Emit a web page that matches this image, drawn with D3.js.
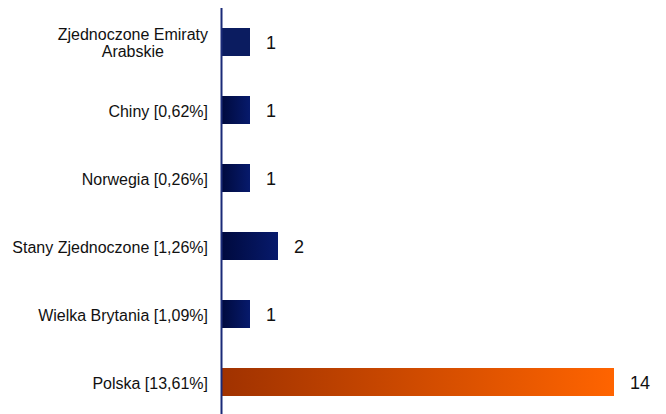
<!DOCTYPE html>
<html>
<head>
<meta charset="utf-8">
<script src="https://cdn.jsdelivr.net/npm/d3@7"></script>
<style>
body { margin: 0; background: #fff; }
</style>
</head>
<body>
<div id="chart"></div>
<script>
// dane
var categories = [
	["Zjednoczone Emiraty", "Arabskie"],
	["Chiny [0,62%]"],
	["Norwegia [0,26%]"],
	["Stany Zjednoczone [1,26%]"],
	["Wielka Brytania [1,09%]"],
	["Polska [13,61%]"]
];
var values = [1, 1, 1, 2, 1, 14];
var barStyle = ["flat", "blue", "blue", "blue", "blue", "orange"];

var width = 666, height = 414;
var axisX = 222;

var svg = d3.select("#chart").append("svg")
	.attr("width", width)
	.attr("height", height);

var defs = svg.append("defs");
function grad(id, c1, c2) {
	var g = defs.append("linearGradient").attr("id", id)
		.attr("x1", "0%").attr("x2", "100%").attr("y1", "0%").attr("y2", "0%");
	g.append("stop").attr("offset", "0%").attr("stop-color", c1);
	g.append("stop").attr("offset", "100%").attr("stop-color", c2);
}
grad("gBlue", "#000a3e", "#071a6c");
grad("gOrange", "#a03200", "#ff6400");
var fills = { flat: "#0b1c60", blue: "url(#gBlue)", orange: "url(#gOrange)" };

var y = d3.scaleBand()
	.domain(d3.range(categories.length))
	.range([8, 416])
	.paddingInner(40 / 68)
	.paddingOuter(20 / 68);

var x = d3.scaleLinear()
	.domain([0, 14])
	.range([axisX, axisX + 392]);

// barres
svg.selectAll("rect.bar")
	.data(values)
	.enter()
	.append("rect")
	.attr("class", "bar")
	.attr("x", x(0))
	.attr("y", (d, i) => y(i))
	.attr("width", d => x(d) - x(0))
	.attr("height", y.bandwidth())
	.attr("fill", (d, i) => fills[barStyle[i]]);

// valeurs
svg.selectAll("text.val")
	.data(values)
	.enter()
	.append("text")
	.attr("class", "val")
	.attr("x", d => x(d) + 16)
	.attr("y", (d, i) => y(i) + y.bandwidth() / 2)
	.attr("dy", "0.38em")
	.attr("font-family", "Arial, 'Liberation Sans', sans-serif")
	.attr("font-size", "18px")
	.attr("fill", "#111")
	.text(d => d);

// axe vertical
svg.append("line")
	.attr("x1", axisX - 0.5).attr("x2", axisX - 0.5)
	.attr("y1", 8).attr("y2", height)
	.attr("stroke", "#1a2a78")
	.attr("stroke-width", 2);

// etiquettes
var labelRight = 208;
var lineH = 17;
categories.forEach(function (lines, i) {
	var cy = y(i) + y.bandwidth() / 2;
	var t = svg.append("text")
		.attr("font-family", "Arial, 'Liberation Sans', sans-serif")
		.attr("font-size", "16px")
		.attr("fill", "#111")
		.attr("text-anchor", "middle");
	var spans = lines.map(function (s, j) {
		return t.append("tspan")
			.attr("y", cy + (j - (lines.length - 1) / 2) * lineH - (lines.length - 1) * 0.5)
			.attr("dy", "0.42em")
			.text(s);
	});
	var maxW = d3.max(spans, s => s.node().getComputedTextLength());
	spans.forEach(s => s.attr("x", labelRight - maxW / 2));
});
</script>
</body>
</html>
